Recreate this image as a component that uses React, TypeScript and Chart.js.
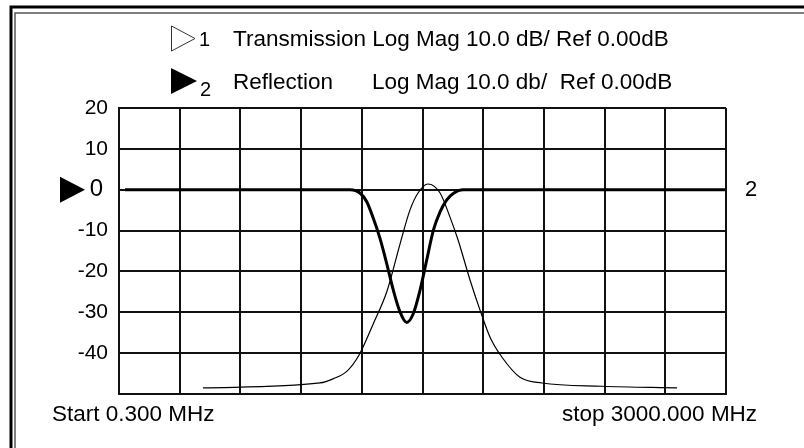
import React, { useEffect, useRef } from "react";
import { Chart, registerables } from "chart.js";

Chart.register(...registerables);

// Sweep range (MHz)
const START_MHZ = 0.3;
const STOP_MHZ = 3000;
const X_DIVISIONS = 10;

// Y axis (dB)
const Y_MIN = -50;
const Y_MAX = 20;
const Y_STEP = 10;

// Trace 1: Transmission (Log Mag, dB) vs frequency (MHz)
const transFreq = [415, 994, 1058, 1127, 1186, 1256, 1325, 1389, 1438, 1478, 1527, 1587, 1636, 1676, 1735, 1784, 1834, 1893, 1982, 2091, 2387, 2758];
const transDb = [-48.5, -47.3, -46.3, -44.4, -40.5, -32.9, -24.8, -13.3, -5.0, -0.8, 1.4, -0.8, -6.7, -12.3, -22.1, -29.4, -36.1, -41.0, -45.9, -47.3, -48.1, -48.5];

// Trace 2: Reflection (Log Mag, dB) vs frequency (MHz)
const reflFreq = [30, 1043, 1142, 1191, 1224, 1257, 1290, 1323, 1356, 1389, 1422, 1455, 1488, 1521, 1554, 1587, 1620, 1652, 1702, 2995];
const reflDb = [0, 0, 0, -0.8, -2.9, -7.0, -11.9, -18.0, -24.6, -29.9, -32.5, -30.3, -24.6, -17.2, -9.9, -5.4, -2.5, -0.9, 0, 0];

const titleLine1 = "Transmission Log Mag 10.0 dB/ Ref 0.00dB";
const titleLine2a = "Reflection";
const titleLine2b = "Log Mag 10.0 db/  Ref 0.00dB";
const startLabel = "Start 0.300 MHz";
const stopLabel = "stop 3000.000 MHz";
const rightMarkerLabel = "2";

const FONT = "'Liberation Sans', Arial, Helvetica, sans-serif";

const decorPlugin = {
  id: "decor",
  afterDraw(chart: any) {
    const ctx = chart.ctx as CanvasRenderingContext2D;
    ctx.save();
    // double frame (top/left visible)
    ctx.strokeStyle = "#000";
    ctx.lineWidth = 3;
    ctx.beginPath();
    ctx.moveTo(11, 460);
    ctx.lineTo(11, 7);
    ctx.lineTo(820, 7);
    ctx.stroke();
    ctx.strokeStyle = "#555";
    ctx.lineWidth = 1.5;
    ctx.beginPath();
    ctx.moveTo(15, 460);
    ctx.lineTo(15, 13);
    ctx.lineTo(820, 13);
    ctx.stroke();

    ctx.fillStyle = "#000";
    ctx.textBaseline = "alphabetic";
    ctx.textAlign = "left";

    // line 1
    ctx.strokeStyle = "#333";
    ctx.lineWidth = 1;
    ctx.beginPath();
    ctx.moveTo(171.5, 26);
    ctx.lineTo(171.5, 51);
    ctx.lineTo(195, 38.5);
    ctx.closePath();
    ctx.stroke();
    ctx.font = `20px ${FONT}`;
    ctx.fillText("1", 199, 46);
    ctx.font = `22.5px ${FONT}`;
    ctx.fillText(titleLine1, 233, 46);

    // line 2
    ctx.beginPath();
    ctx.moveTo(171, 68);
    ctx.lineTo(171, 94);
    ctx.lineTo(197, 81);
    ctx.closePath();
    ctx.fill();
    ctx.font = `20px ${FONT}`;
    ctx.fillText("2", 200, 96);
    ctx.font = `22.5px ${FONT}`;
    ctx.fillText(titleLine2a, 233, 89);
    ctx.fillText(titleLine2b, 372, 89);

    // reference marker at 0 dB
    const y0 = chart.scales.y.getPixelForValue(0);
    ctx.beginPath();
    ctx.moveTo(60, y0 - 13);
    ctx.lineTo(60, y0 + 13);
    ctx.lineTo(85, y0);
    ctx.closePath();
    ctx.fill();

    // start / stop
    ctx.font = `22.5px ${FONT}`;
    ctx.fillText(startLabel, 52, 421);
    ctx.fillText(stopLabel, 562, 421);
    ctx.restore();
  },
};

export default function App() {
  const ref = useRef<HTMLCanvasElement | null>(null);
  useEffect(() => {
    if (!ref.current) return;
    const xTicks = Array.from({ length: X_DIVISIONS + 1 }, (_, i) => START_MHZ + (i * (STOP_MHZ - START_MHZ)) / X_DIVISIONS);
    const chart = new Chart(ref.current, {
      type: "line",
      data: {
        datasets: [
          {
            label: "Transmission",
            data: transFreq.map((f, i) => ({ x: f, y: transDb[i] })),
            borderColor: "#000",
            borderWidth: 1.2,
            pointRadius: 0,
            cubicInterpolationMode: "monotone",
            fill: false,
          },
          {
            label: "Reflection",
            data: reflFreq.map((f, i) => ({ x: f, y: reflDb[i] })),
            borderColor: "#000",
            borderWidth: 3,
            pointRadius: 0,
            cubicInterpolationMode: "monotone",
            fill: false,
          },
        ],
      },
      options: {
        animation: false,
        responsive: false,
        events: [],
        layout: { padding: { top: 108, bottom: 54, left: 0, right: 0 } },
        plugins: { legend: { display: false }, title: { display: false }, tooltip: { enabled: false } },
        scales: {
          x: {
            type: "linear",
            min: START_MHZ,
            max: STOP_MHZ,
            afterBuildTicks: (scale: any) => {
              scale.ticks = xTicks.map((v) => ({ value: v }));
            },
            afterFit: (scale: any) => {
              scale.height = 0;
            },
            ticks: { display: false },
            grid: { color: "#111", lineWidth: 2, drawTicks: false },
            border: { color: "#111", width: 2 },
          },
          y: {
            type: "linear",
            position: "left",
            min: Y_MIN,
            max: Y_MAX,
            afterFit: (scale: any) => {
              scale.width = 119;
            },
            ticks: {
              stepSize: Y_STEP,
              padding: 11,
              color: "#000",
              font: (c: any) => ({ family: FONT, size: c.tick && c.tick.value === 0 ? 24 : 21 }),
              callback: (v: any) => (v === Y_MIN ? "" : v === 0 ? "0\u2009" : String(v)),
            },
            grid: { color: "#111", lineWidth: 2, drawTicks: false },
            border: { color: "#111", width: 2 },
          },
          y2: {
            type: "linear",
            position: "right",
            min: Y_MIN,
            max: Y_MAX,
            afterBuildTicks: (scale: any) => {
              scale.ticks = [{ value: 0 }];
            },
            afterFit: (scale: any) => {
              scale.width = 78;
            },
            ticks: {
              padding: 19,
              color: "#000",
              font: { family: FONT, size: 22 },
              callback: () => rightMarkerLabel,
            },
            grid: { display: false, drawTicks: false },
            border: { display: false },
          },
        },
      },
      plugins: [decorPlugin],
    } as any);
    return () => chart.destroy();
  }, []);
  return (
    <div style={{ position: "absolute", left: 0, top: 0, width: 804, height: 448, background: "#fff" }}>
      <canvas ref={ref} width={804} height={448} />
    </div>
  );
}
